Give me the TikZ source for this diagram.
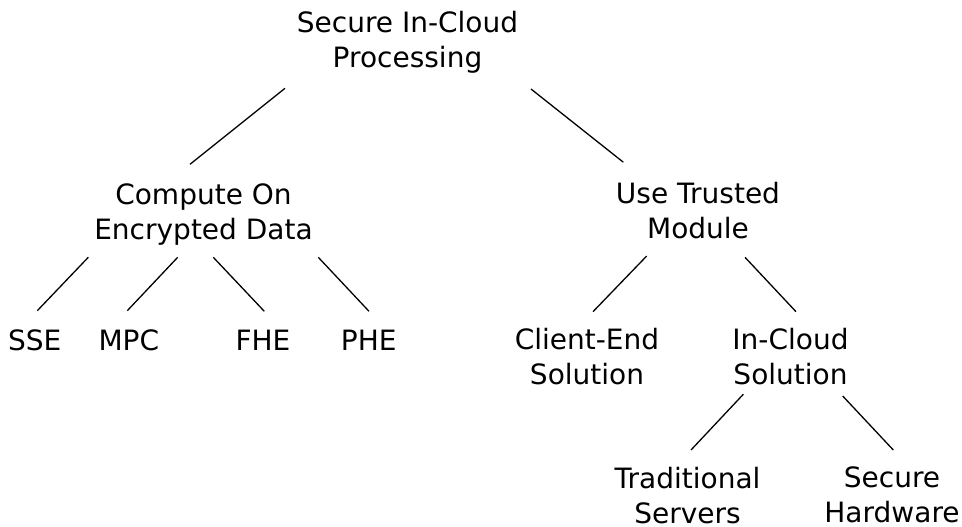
\documentclass[tikz,border=0pt]{standalone}
\usepackage{fontspec}
\setmainfont{DejaVu Sans}
\usetikzlibrary{positioning}

\begin{document}
\begin{tikzpicture}[x=1pt, y=-1pt, every node/.style={font=\fontsize{28}{35}\selectfont, align=center, anchor=base, inner sep=0pt}]
  \tikzset{branch/.style={line width=1.3pt}}
  \useasboundingbox (0,0) rectangle (962,527);

  % nodes sit on the baseline of their last line
  \node (root) at (407.5,67) {Secure In-Cloud\\Processing};
  \node (ced) at (203.5,239) {Compute On\\Encrypted Data};
  \node (utm) at (698,238.5) {Use Trusted\\Module};

  \node (sse) at (34.7,350) {SSE};
  \node (mpc) at (128.8,350) {MPC};
  \node (fhe) at (263,350) {FHE};
  \node (phe) at (368.8,350) {PHE};

  \node (ces) at (587,384) {Client-End\\Solution};
  \node (ics) at (790.5,384) {In-Cloud\\Solution};

  \node (trad) at (687.5,523) {Traditional\\Servers};
  \node (hw) at (892,522) {Secure\\Hardware};

  % first level
  \draw[branch] ([shift={(-122.5,21.3)}]root.base) -- ([shift={(-13.5,-74.7)}]ced.base);
  \draw[branch] ([shift={(123.5,22)}]root.base) -- ([shift={(-74.7,-76.3)}]utm.base);

  % encrypted data branches
  \draw[branch] ([shift={(-115.2,18.3)}]ced.base) -- ([shift={(2.6,-39.3)}]sse.base);
  \draw[branch] ([shift={(-25.8,18.3)}]ced.base) -- ([shift={(-1.5,-39.3)}]mpc.base);
  \draw[branch] ([shift={(9.8,18.3)}]ced.base) -- ([shift={(1.3,-38.7)}]fhe.base);
  \draw[branch] ([shift={(114.8,18.3)}]ced.base) -- ([shift={(0.2,-38.7)}]phe.base);

  % trusted module branches
  \draw[branch] ([shift={(-51.3,17.5)}]utm.base) -- ([shift={(6,-72.3)}]ces.base);
  \draw[branch] ([shift={(47,18.8)}]utm.base) -- ([shift={(5.5,-72.3)}]ics.base);
  \draw[branch] ([shift={(-47.2,10.3)}]ics.base) -- ([shift={(3.5,-73)}]trad.base);
  \draw[branch] ([shift={(52.2,12)}]ics.base) -- ([shift={(1.3,-72)}]hw.base);
\end{tikzpicture}
\end{document}
